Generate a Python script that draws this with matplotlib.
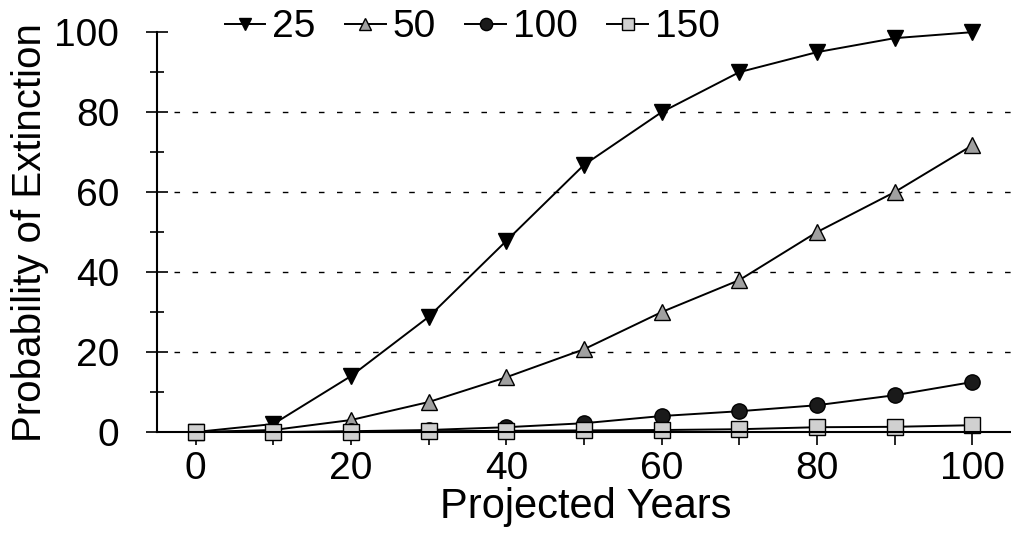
import matplotlib.pyplot as plt
from matplotlib.ticker import MultipleLocator

plt.rcParams['font.family'] = ['Liberation Sans', 'DejaVu Sans']

years = [0, 10, 20, 30, 40, 50, 60, 70, 80, 90, 100]
ext_25 = [0, 2, 14, 28.8, 47.8, 66.8, 80, 90, 95, 98.5, 100]
ext_50 = [0, 0.5, 3, 7.5, 13.7, 20.7, 30, 38, 50, 60, 71.7]
ext_100 = [0, 0, 0.2, 0.5, 1.2, 2.2, 4, 5.2, 6.7, 9.2, 12.5]
ext_150 = [0, 0, 0, 0.2, 0.3, 0.4, 0.5, 0.7, 1.2, 1.3, 1.7]
labels = ["25", "50", "100", "150"]

fig = plt.figure(figsize=(10.12, 5.36), dpi=100)
ax = fig.add_axes([0.155, 0.194, 0.848, 0.746])

styles = [
    dict(marker="v", mfc="black", ms=11),
    dict(marker="^", mfc="#a0a0a0", ms=11),
    dict(marker="o", mfc="#1a1a1a", ms=11),
    dict(marker="s", mfc="#d0d0d0", ms=11),
]
series = [ext_25, ext_50, ext_100, ext_150]
for vals, lab, st in zip(series, labels, styles):
    ax.plot(years, vals, color="black", lw=1.4, mec="black", mew=1.0,
            label=lab, clip_on=False, **st)

ax.set_xlim(-5, 105.5)
ax.set_ylim(0, 100)
ax.xaxis.set_major_locator(MultipleLocator(20))
ax.xaxis.set_minor_locator(MultipleLocator(10))
ax.yaxis.set_major_locator(MultipleLocator(20))
ax.yaxis.set_minor_locator(MultipleLocator(10))

for y in [20, 40, 60, 80]:
    ax.axhline(y, xmin=0.02, xmax=1.0, color="black", lw=1.0,
               linestyle=(0, (4, 9)), zorder=0)

for s in ["top", "right"]:
    ax.spines[s].set_visible(False)
ax.spines["left"].set_linewidth(1.5)
ax.spines["bottom"].set_linewidth(1.5)

ax.tick_params(axis="x", which="both", direction="out", length=9, width=1.2,
               labelsize=28, pad=5)
ax.tick_params(axis="y", which="major", direction="inout", length=16, width=1.2,
               labelsize=28, pad=19)
ax.tick_params(axis="y", which="minor", direction="inout", length=10, width=1.2)

ax.set_xlabel("Projected Years", fontsize=30, labelpad=0)
ax.set_ylabel("Probability of Extinction", fontsize=29, labelpad=4)

ax.legend(loc="center left", bbox_to_anchor=(0.079, 1.012), ncol=4,
          frameon=False, fontsize=28, handlelength=1.05, handletextpad=0.18,
          columnspacing=0.75, borderaxespad=0, borderpad=0, markerscale=0.8)

fig.savefig("out.png", dpi=100)
